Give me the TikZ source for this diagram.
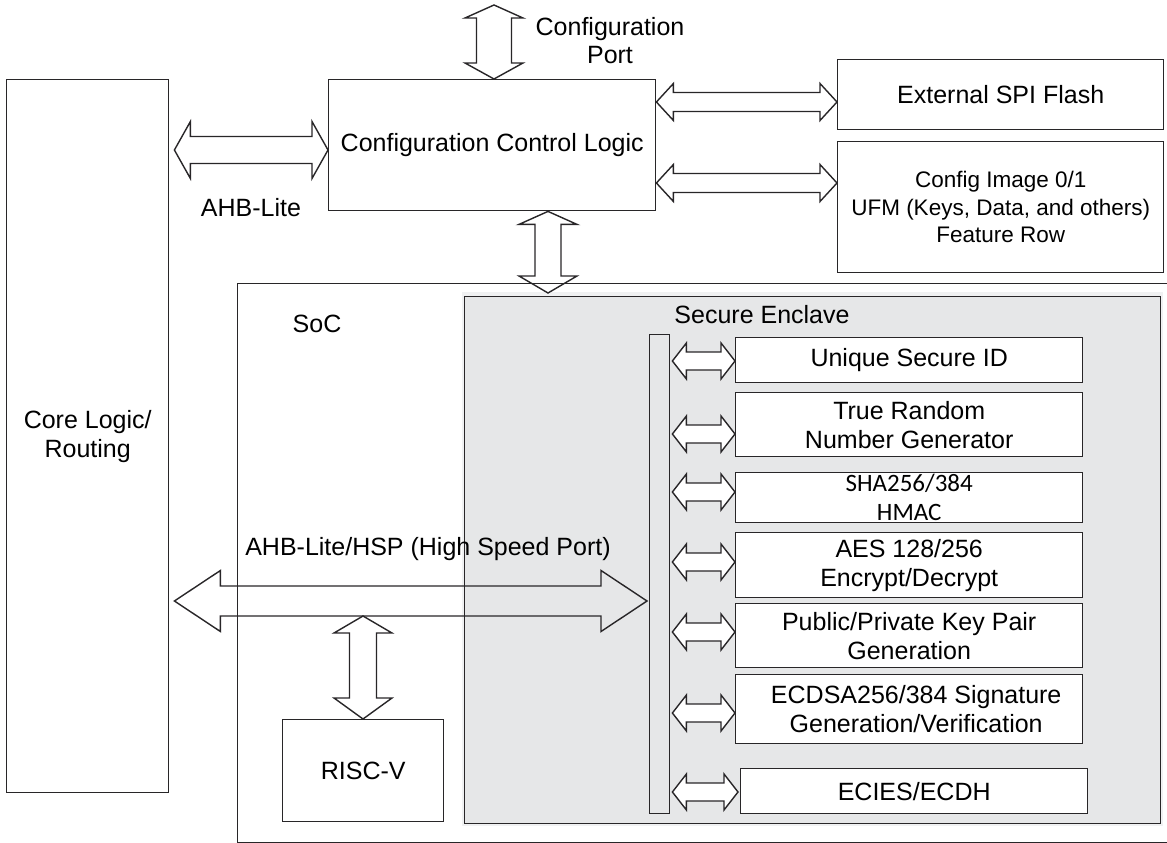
\documentclass[tikz,border=0pt]{standalone}
\usepackage{fontspec}
\setmainfont{Liberation Sans}
\newfontfamily\calibfont{Carlito}
\usetikzlibrary{calc}
\definecolor{encl}{RGB}{230,231,232}
\definecolor{enclshade}{RGB}{240,241,242}
\definecolor{ink}{RGB}{40,38,40}
% horizontal double block arrow: style, left tip, right tip, shaft half, head half, head len left, head len right
\newcommand{\HDA}[7][]{%
  \path[blockarrow,#1] let \p1=#2, \p2=#3 in
    (\x1,\y1) -- (\x1+#6,\y1+#5) -- (\x1+#6,\y1+#4) -- (\x2-#7,\y1+#4) -- (\x2-#7,\y1+#5)
    -- (\x2,\y1) -- (\x2-#7,\y1-#5) -- (\x2-#7,\y1-#4) -- (\x1+#6,\y1-#4) -- (\x1+#6,\y1-#5) -- cycle;}
% vertical double block arrow: style, top tip, bottom tip, shaft half, head half, head len top, head len bottom
\newcommand{\VDA}[7][]{%
  \path[blockarrow,#1] let \p1=#2, \p2=#3 in
    (\x1,\y1) -- (\x1+#5,\y1-#6) -- (\x1+#4,\y1-#6) -- (\x1+#4,\y2+#7) -- (\x1+#5,\y2+#7)
    -- (\x1,\y2) -- (\x1-#5,\y2+#7) -- (\x1-#4,\y2+#7) -- (\x1-#4,\y1-#6) -- (\x1-#5,\y1-#6) -- cycle;}
\begin{document}
\begin{tikzpicture}[x=1pt,y=-1pt]
\tikzset{
  ln/.style={draw=ink, line width=1.4pt},
  box/.style={ln, fill=white, inner sep=0pt, anchor=north west, align=center,
              font=\fontsize{25}{29}\selectfont},
  blockarrow/.style={ln, line join=miter},
  smallarrow/.style={fill=white},
  lbl/.style={inner sep=0pt, align=center, font=\fontsize{25}{28}\selectfont},
}
\useasboundingbox (0,0) rectangle (1167,843);
\fill[white] (0,0) rectangle (1167,843);

% outer blocks
\node[box, minimum width=162, minimum height=713] (core) at (6,79) {Core Logic/\\Routing};
\node[box, minimum width=327, minimum height=131] (ccl) at (328,79) {Configuration Control Logic};
\node[box, minimum width=326, minimum height=70] (spi) at (837,59) {External SPI Flash};
\node[box, minimum width=326, minimum height=131, font=\fontsize{22.5}{27.5}\selectfont] (cfg) at (837,141)
  {Config Image 0/1\\UFM (Keys, Data, and others)\\Feature Row};

% SoC
\node[box, minimum width=945, minimum height=559] (soc) at (237,283) {};
\node[lbl] (soclbl) at (317,324) {SoC};

% Secure enclave
\fill[enclshade] (462,292) rectangle (1163,826);
\node[box, fill=encl, minimum width=696, minimum height=527] (encl) at (464,296) {};
\node[lbl] (encllbl) at (762,315) {Secure Enclave};
\node[box, fill=encl, minimum width=20, minimum height=479] (bar) at (649,334) {};

\node[box, minimum width=347, minimum height=45] (usid) at (735,337) {Unique Secure ID};
\node[box, minimum width=347, minimum height=64] (trng) at (735,392) {True Random\\Number Generator};
\node[box, minimum width=347, minimum height=50, font=\calibfont\fontsize{25}{29}\selectfont] (sha) at (735,472) {SHA256/384\\HMAC};
\node[box, minimum width=347, minimum height=65] (aes) at (735,532) {AES 128/256\\Encrypt/Decrypt};
\node[box, minimum width=347, minimum height=64] (pkp) at (735,603) {Public/Private Key Pair\\Generation};
\node[box, minimum width=347, minimum height=69] (ecdsa) at (735,674) {\hspace*{14pt}ECDSA256/384 Signature\\\hspace*{14pt}Generation/Verification};
\node[box, minimum width=347, minimum height=45] (ecies) at (740,768) {ECIES/ECDH};

% RISC-V
\node[box, minimum width=161, minimum height=102] (risc) at (282,719) {RISC-V};

% labels
\node[lbl] (cplbl) at (610,41) {Configuration\\Port};
\node[lbl] (ahblbl) at (251,208) {AHB-Lite};
\node[lbl] (hsplbl) at (428,549) {AHB-Lite/HSP (High Speed Port)};

% helper coordinates
\coordinate (cp) at (494,5);
\coordinate (r150) at (0,150);
\coordinate (r102) at (0,102);
\coordinate (r183) at (0,183);
\coordinate (c548) at (548,293);
\coordinate (r601) at (0,601);
\coordinate (hspb) at (363,616);
\coordinate (r361) at (0,361);
\coordinate (r434) at (0,434);
\coordinate (r492) at (0,492);
\coordinate (r562) at (0,562);
\coordinate (r632) at (0,632);
\coordinate (r713) at (0,713);
\coordinate (r792) at (0,792);

% block arrows
\VDA{(cp)}{(cp |- ccl.north)}{17.5pt}{29pt}{13pt}{16pt}
\HDA{($(core.east |- r150)+(5,0)$)}{(ccl.west |- r150)}{13.5pt}{28.5pt}{16pt}{16pt}
\HDA{(ccl.east |- r102)}{(spi.west |- r102)}{9.5pt}{18.5pt}{17pt}{17pt}
\HDA{(ccl.east |- r183)}{(cfg.west |- r183)}{9.5pt}{18.5pt}{17pt}{17pt}
\VDA{(c548 |- ccl.south)}{(c548)}{13pt}{29pt}{13pt}{17pt}
\HDA{($(core.east |- r601)+(5,0)$)}{($(bar.west |- r601)+(-2,0)$)}{15pt}{30.5pt}{46pt}{46pt}
\VDA{(hspb)}{(hspb |- risc.north)}{13.5pt}{29pt}{17pt}{21pt}

% enclave bus arrows
\HDA[smallarrow]{($(bar.east |- r361)+(2,0)$)}{(usid.west |- r361)}{9pt}{18pt}{14pt}{14pt}
\HDA[smallarrow]{($(bar.east |- r434)+(2,0)$)}{(trng.west |- r434)}{9pt}{18pt}{14pt}{14pt}
\HDA[smallarrow]{($(bar.east |- r492)+(2,0)$)}{(sha.west |- r492)}{9pt}{18pt}{14pt}{14pt}
\HDA[smallarrow]{($(bar.east |- r562)+(2,0)$)}{(aes.west |- r562)}{9pt}{18pt}{14pt}{14pt}
\HDA[smallarrow]{($(bar.east |- r632)+(2,0)$)}{(pkp.west |- r632)}{9pt}{18pt}{14pt}{14pt}
\HDA[smallarrow]{($(bar.east |- r713)+(2,0)$)}{(ecdsa.west |- r713)}{9pt}{18pt}{14pt}{14pt}
\HDA[smallarrow]{($(bar.east |- r792)+(2,0)$)}{($(ecies.west |- r792)+(-2,0)$)}{9pt}{18pt}{14pt}{14pt}
\end{tikzpicture}
\end{document}
